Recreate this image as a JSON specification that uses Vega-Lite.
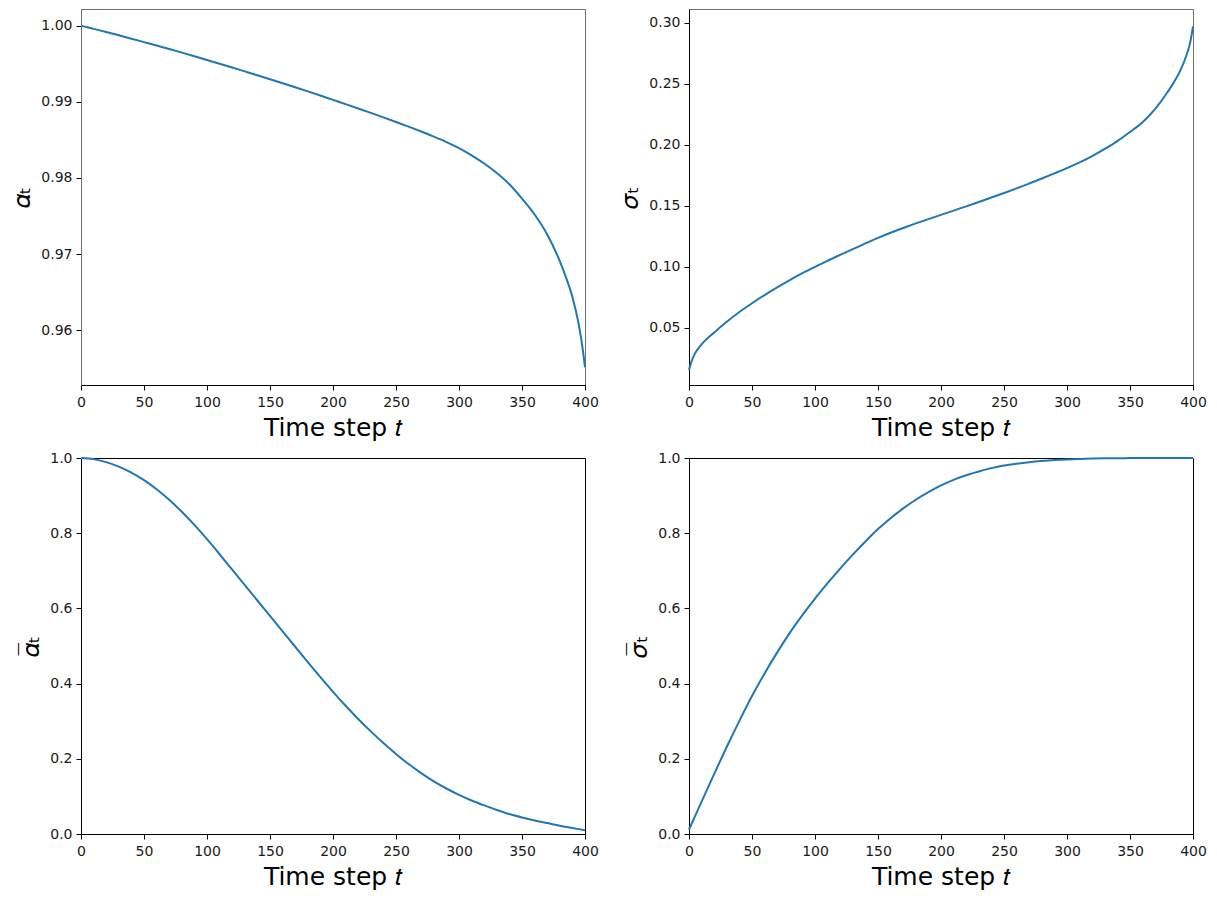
{
  "$schema": "https://vega.github.io/schema/vega-lite/v6.json",
  "padding": {"left": 9, "top": 8, "right": 5, "bottom": 5},
  "background": "white",
  "datasets": {
    "top": [
      {"t": 0, "a": 1.0, "s": 0.0155},
      {"t": 2, "a": 0.99992, "s": 0.0225},
      {"t": 5, "a": 0.9998, "s": 0.0295},
      {"t": 10, "a": 0.99959, "s": 0.0365},
      {"t": 20, "a": 0.99917, "s": 0.0463},
      {"t": 30, "a": 0.99874, "s": 0.0551},
      {"t": 40, "a": 0.9983, "s": 0.063},
      {"t": 50, "a": 0.99785, "s": 0.0702},
      {"t": 60, "a": 0.9974, "s": 0.0769},
      {"t": 70, "a": 0.99694, "s": 0.0832},
      {"t": 80, "a": 0.99647, "s": 0.0892},
      {"t": 90, "a": 0.99599, "s": 0.0948},
      {"t": 100, "a": 0.9955, "s": 0.1},
      {"t": 110, "a": 0.99501, "s": 0.105},
      {"t": 120, "a": 0.99451, "s": 0.1099},
      {"t": 130, "a": 0.994, "s": 0.1146},
      {"t": 140, "a": 0.99349, "s": 0.1192},
      {"t": 150, "a": 0.99297, "s": 0.1238},
      {"t": 160, "a": 0.99245, "s": 0.128},
      {"t": 170, "a": 0.99192, "s": 0.1319},
      {"t": 180, "a": 0.99138, "s": 0.1356},
      {"t": 190, "a": 0.99083, "s": 0.1391},
      {"t": 200, "a": 0.99026, "s": 0.1426},
      {"t": 210, "a": 0.9897, "s": 0.1461},
      {"t": 220, "a": 0.98913, "s": 0.1496},
      {"t": 230, "a": 0.98855, "s": 0.1532},
      {"t": 240, "a": 0.98796, "s": 0.1568},
      {"t": 250, "a": 0.98736, "s": 0.1605},
      {"t": 260, "a": 0.98674, "s": 0.1643},
      {"t": 270, "a": 0.9861, "s": 0.1683},
      {"t": 280, "a": 0.98543, "s": 0.1724},
      {"t": 290, "a": 0.98472, "s": 0.1766},
      {"t": 300, "a": 0.98393, "s": 0.1809},
      {"t": 310, "a": 0.98298, "s": 0.1856},
      {"t": 320, "a": 0.9819, "s": 0.1908},
      {"t": 330, "a": 0.98065, "s": 0.1966},
      {"t": 340, "a": 0.97917, "s": 0.203},
      {"t": 350, "a": 0.97729, "s": 0.2105},
      {"t": 360, "a": 0.9752, "s": 0.2185},
      {"t": 370, "a": 0.97258, "s": 0.2295},
      {"t": 380, "a": 0.96908, "s": 0.2435},
      {"t": 385, "a": 0.9669, "s": 0.2515},
      {"t": 390, "a": 0.96437, "s": 0.261},
      {"t": 395, "a": 0.96079, "s": 0.274},
      {"t": 398, "a": 0.95773, "s": 0.285},
      {"t": 400, "a": 0.95511, "s": 0.297}
    ],
    "bottom": [
      {"t": 0, "ab": 1.0, "sb": 0.012},
      {"t": 10, "ab": 0.997, "sb": 0.086},
      {"t": 20, "ab": 0.989, "sb": 0.16},
      {"t": 30, "ab": 0.977, "sb": 0.232},
      {"t": 40, "ab": 0.961, "sb": 0.301},
      {"t": 50, "ab": 0.941, "sb": 0.367},
      {"t": 60, "ab": 0.917, "sb": 0.427},
      {"t": 70, "ab": 0.889, "sb": 0.483},
      {"t": 80, "ab": 0.857, "sb": 0.535},
      {"t": 90, "ab": 0.822, "sb": 0.582},
      {"t": 100, "ab": 0.784, "sb": 0.626},
      {"t": 110, "ab": 0.744, "sb": 0.667},
      {"t": 120, "ab": 0.703, "sb": 0.706},
      {"t": 130, "ab": 0.662, "sb": 0.743},
      {"t": 140, "ab": 0.621, "sb": 0.778},
      {"t": 150, "ab": 0.58, "sb": 0.811},
      {"t": 160, "ab": 0.539, "sb": 0.84},
      {"t": 170, "ab": 0.498, "sb": 0.866},
      {"t": 180, "ab": 0.457, "sb": 0.889},
      {"t": 190, "ab": 0.417, "sb": 0.909},
      {"t": 200, "ab": 0.378, "sb": 0.927},
      {"t": 210, "ab": 0.341, "sb": 0.942},
      {"t": 220, "ab": 0.306, "sb": 0.954},
      {"t": 230, "ab": 0.273, "sb": 0.964},
      {"t": 240, "ab": 0.242, "sb": 0.973},
      {"t": 250, "ab": 0.213, "sb": 0.98},
      {"t": 260, "ab": 0.186, "sb": 0.985},
      {"t": 270, "ab": 0.162, "sb": 0.989},
      {"t": 280, "ab": 0.14, "sb": 0.992},
      {"t": 290, "ab": 0.121, "sb": 0.9945},
      {"t": 300, "ab": 0.104, "sb": 0.9963},
      {"t": 310, "ab": 0.089, "sb": 0.9976},
      {"t": 320, "ab": 0.076, "sb": 0.9985},
      {"t": 330, "ab": 0.064, "sb": 0.9991},
      {"t": 340, "ab": 0.053, "sb": 0.9995},
      {"t": 350, "ab": 0.044, "sb": 0.9997},
      {"t": 360, "ab": 0.036, "sb": 0.9999},
      {"t": 370, "ab": 0.029, "sb": 1.0},
      {"t": 380, "ab": 0.022, "sb": 1.0},
      {"t": 390, "ab": 0.016, "sb": 1.0},
      {"t": 400, "ab": 0.01, "sb": 1.0}
    ]
  },
  "columns": 2,
  "bounds": "flush",
  "spacing": {"row": 73, "column": 104},
  "concat": [
    {
      "width": 504, "height": 376,
      "view": {"stroke": "#707070"},
      "data": {"name": "top"},
      "mark": {"type": "line", "color": "#1f77b4", "strokeWidth": 2, "interpolate": "monotone"},
      "encoding": {
        "x": {"field": "t", "type": "quantitative", "scale": {"domain": [0, 400], "nice": false},
              "axis": {"title": "Time step 𝑡", "values": [0, 50, 100, 150, 200, 250, 300, 350, 400], "format": "d"}},
        "y": {"field": "a", "type": "quantitative", "scale": {"domain": [0.9528, 1.0022], "nice": false, "zero": false},
              "axis": {"title": "𝛼ₜ", "values": [0.96, 0.97, 0.98, 0.99, 1.0], "format": ".2f", "domainColor": "#707070"}}
      }
    },
    {
      "width": 504, "height": 376,
      "view": {"stroke": "#707070"},
      "data": {"name": "top"},
      "mark": {"type": "line", "color": "#1f77b4", "strokeWidth": 2, "interpolate": "monotone"},
      "encoding": {
        "x": {"field": "t", "type": "quantitative", "scale": {"domain": [0, 400], "nice": false},
              "axis": {"title": "Time step 𝑡", "values": [0, 50, 100, 150, 200, 250, 300, 350, 400], "format": "d"}},
        "y": {"field": "s", "type": "quantitative", "scale": {"domain": [0.0032, 0.3113], "nice": false, "zero": false},
              "axis": {"title": "𝜎ₜ", "values": [0.05, 0.1, 0.15, 0.2, 0.25, 0.3], "format": ".2f"}}
      }
    },
    {
      "width": 504, "height": 376,
      "data": {"name": "bottom"},
      "mark": {"type": "line", "color": "#1f77b4", "strokeWidth": 2, "interpolate": "monotone"},
      "encoding": {
        "x": {"field": "t", "type": "quantitative", "scale": {"domain": [0, 400], "nice": false},
              "axis": {"title": "Time step 𝑡", "values": [0, 50, 100, 150, 200, 250, 300, 350, 400], "format": "d"}},
        "y": {"field": "ab", "type": "quantitative", "scale": {"domain": [0, 1], "nice": false},
              "axis": {"title": "𝛼̅ₜ", "values": [0, 0.2, 0.4, 0.6, 0.8, 1.0], "format": ".1f"}}
      }
    },
    {
      "width": 504, "height": 376,
      "data": {"name": "bottom"},
      "mark": {"type": "line", "color": "#1f77b4", "strokeWidth": 2, "interpolate": "monotone"},
      "encoding": {
        "x": {"field": "t", "type": "quantitative", "scale": {"domain": [0, 400], "nice": false},
              "axis": {"title": "Time step 𝑡", "values": [0, 50, 100, 150, 200, 250, 300, 350, 400], "format": "d"}},
        "y": {"field": "sb", "type": "quantitative", "scale": {"domain": [0, 1], "nice": false},
              "axis": {"title": "𝜎̅ₜ", "values": [0, 0.2, 0.4, 0.6, 0.8, 1.0], "format": ".1f"}}
      }
    }
  ],
  "config": {
    "font": "DejaVu Sans",
    "view": {"stroke": "#000000", "strokeWidth": 1},
    "axis": {
      "grid": false,
      "labelFont": "DejaVu Sans", "labelFontSize": 14, "labelColor": "#1a1a1a",
      "titleFont": "DejaVu Sans", "titleFontSize": 25, "titleFontWeight": "normal", "titleColor": "#000000",
      "tickColor": "#000000", "tickSize": 5, "tickWidth": 1,
      "domainColor": "#000000", "domainWidth": 1,
      "labelFlush": false, "labelOverlap": false
    },
    "axisX": {"labelPadding": 5, "titlePadding": 6},
    "axisY": {"labelPadding": 4, "titlePadding": 6}
  }
}
